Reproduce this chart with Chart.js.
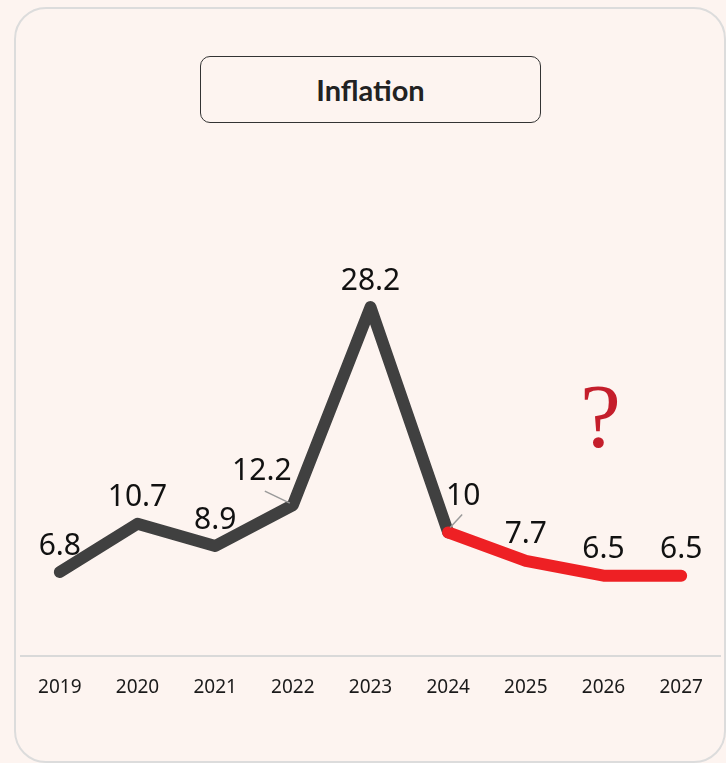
<!DOCTYPE html>
<html>
<head>
<meta charset="utf-8">
<script src="https://cdn.jsdelivr.net/npm/chart.js@4/dist/chart.umd.min.js"></script>
<style>
    html, body { margin: 0; padding: 0; background: #fdf4f0; }
    .page { position: relative; width: 726px; height: 763px; overflow: hidden; background: #fdf4f0; }
    .card {
        position: absolute; left: 14px; top: 7px; width: 708px; height: 752px;
        border: 2px solid #dcdcdc; border-radius: 32px; box-sizing: content-box;
    }
    .title-box {
        position: absolute; left: 200px; top: 56px; width: 339px; height: 65px;
        border: 1px solid #333; border-radius: 10px;
        display: flex; align-items: center; justify-content: center;
        font-family: Lato, sans-serif; font-weight: bold; font-size: 29px; color: #222;
    }
    #chartWrap { position: absolute; left: 0; top: 0; width: 726px; height: 763px; }
</style>
</head>
<body>
<div class="page">
    <div class="card"></div>
    <div class="title-box">Inflation</div>
    <div id="chartWrap"><canvas id="inflationChart"></canvas></div>
</div>
<script>
// data
const years = ['2019', '2020', '2021', '2022', '2023', '2024', '2025', '2026', '2027'];
const inflation = [6.8, 10.7, 8.9, 12.2, 28.2, 10, 7.7, 6.5, 6.5];
const firstForecastIndex = 5; // line turns red from 2024 on

const darkLine = '#404040';
const redLine = '#ee2024';

// label nudges: [dx, dy, leader line?]
const labelShift = {
    3: [-31, -34, true],
    5: [15, -36, true]
};

const valueLabels = {
    id: 'valueLabels',
    afterDatasetsDraw(chart) {
        const ctx = chart.ctx;
        const meta = chart.getDatasetMeta(0);
        ctx.save();
        ctx.font = '30px "Noto Sans", sans-serif';
        ctx.fillStyle = '#111';
        ctx.textAlign = 'center';
        ctx.textBaseline = 'middle';
        meta.data.forEach((pt, i) => {
            let dx = 0, dy = -26, leader = false;
            if (labelShift[i]) {
                [dx, dy, leader] = labelShift[i];
            }
            if (leader) {
                ctx.strokeStyle = '#9a9a9a';
                ctx.lineWidth = 1.5;
                ctx.beginPath();
                if (dx < 0) {
                    ctx.moveTo(pt.x + dx + 3, pt.y + dy + 20);
                    ctx.lineTo(pt.x - 3, pt.y - 2);
                } else {
                    ctx.moveTo(pt.x + 2, pt.y - 5);
                    ctx.lineTo(pt.x + dx - 1, pt.y + dy + 18);
                }
                ctx.stroke();
            }
            ctx.fillText(String(inflation[i]), pt.x + dx, pt.y + dy);
        });

        // the red question mark over the forecast
        const xq = chart.scales.x.getPixelForValue(7);
        ctx.font = '92px "Liberation Serif", serif';
        ctx.fillStyle = '#c41e2b';
        ctx.textBaseline = 'alphabetic';
        ctx.fillText('?', xq - 3, 447);
        ctx.restore();
    }
};

new Chart(document.getElementById('inflationChart').getContext('2d'), {
    type: 'line',
    data: {
        labels: years,
        datasets: [{
            data: inflation,
            borderColor: darkLine,
            borderWidth: 12,
            borderCapStyle: 'round',
            borderJoinStyle: 'round',
            pointRadius: 0,
            tension: 0,
            segment: {
                borderColor: c => c.p0DataIndex >= firstForecastIndex ? redLine : darkLine
            }
        }]
    },
    options: {
        responsive: true,
        maintainAspectRatio: false,
        animation: false,
        events: [],
        layout: { padding: { left: 21, right: 6, top: 161, bottom: 44 } },
        plugins: { legend: { display: false }, tooltip: { enabled: false } },
        scales: {
            x: {
                offset: true,
                grid: { display: false, drawTicks: false },
                border: { display: true, color: '#d9d9d9', width: 2 },
                ticks: {
                    padding: 20,
                    color: '#1a1a1a',
                    font: { family: '"Noto Sans", sans-serif', size: 19 }
                }
            },
            y: {
                display: false,
                min: 0,
                max: 40
            }
        }
    },
    plugins: [valueLabels]
});
</script>
</body>
</html>
